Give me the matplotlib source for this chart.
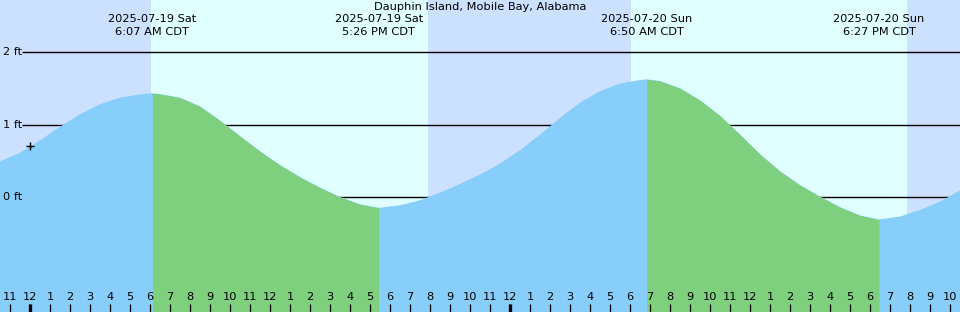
import numpy as np
import matplotlib
matplotlib.use("Agg")
import matplotlib.pyplot as plt
import matplotlib.transforms as mtransforms

# hours after midnight 2025-07-19 (CDT) and tide height in feet
tide_hours = [-1.5, -0.5, 0.5, 1.5, 2.5, 3.5, 4.5, 5.5, 6.117, 6.5, 7.5, 8.5, 9.5,
              10.5, 11.5, 12.5, 13.5, 14.5, 15.5, 16.5, 17.433, 18.5, 19.5, 20.5,
              21.5, 22.5, 23.5, 24.5, 25.5, 26.5, 27.5, 28.5, 29.5, 30.5, 30.833,
              31.5, 32.5, 33.5, 34.5, 35.5, 36.5, 37.5, 38.5, 39.5, 40.5, 41.5,
              42.45, 43.5, 44.5, 45.5, 46.5]
tide_feet = [0.49, 0.61, 0.78, 0.97, 1.14, 1.28, 1.37, 1.415, 1.43, 1.42, 1.37,
             1.25, 1.055, 0.84, 0.63, 0.44, 0.275, 0.13, 0.0, -0.10, -0.15,
             -0.115, -0.045, 0.06, 0.18, 0.31, 0.46, 0.645, 0.86, 1.09, 1.30, 1.46,
             1.565, 1.612, 1.623, 1.60, 1.50, 1.335, 1.12, 0.86, 0.59, 0.355, 0.165,
             0.005, -0.14, -0.255, -0.31, -0.27, -0.18, -0.065, 0.09]

# high / low events
event_hours = [6.117, 17.433, 30.833, 42.45]
event_dates = ["2025-07-19 Sat", "2025-07-19 Sat", "2025-07-20 Sun", "2025-07-20 Sun"]
event_times = ["6:07 AM CDT", "5:26 PM CDT", "6:50 AM CDT", "6:27 PM CDT"]

# sunrise / sunset
sunrise = [6.05, 30.05]
sunset = [19.9, 43.85]

level_feet = [0, 1, 2]
level_labels = ["0 ft", "1 ft", "2 ft"]

tick_hours = list(range(-1, 47))
tick_labels = [str(h % 12 or 12) for h in tick_hours]
midnights = [0, 24]

now_hour = 0.0
now_feet = 0.70

title = "Dauphin Island, Mobile Bay, Alabama"

night_color = "#cce0ff"
day_color = "#e0ffff"
flood_color = "#87cefa"
ebb_color = "#7ecf7e"

W, H = 960, 312
fig = plt.figure(figsize=(W / 100, H / 100), dpi=100)
ax = fig.add_axes([0, 0, 1, 1])
x0, x1 = -1.5, 46.5
y0, y1 = (197 - 312) / 72.5, 197 / 72.5
ax.set_xlim(x0, x1)
ax.set_ylim(y0, y1)
ax.axis("off")

blend = mtransforms.blended_transform_factory(ax.transData, ax.transAxes)

# day / night background
ax.axvspan(x0, x1, color=night_color, lw=0, zorder=0)
for sr, ss in zip(sunrise, sunset):
    ax.axvspan(sr, ss, color=day_color, lw=0, zorder=0.5)

# level lines
ax.hlines(level_feet, (22 - 30) / 20, x1, color="black", lw=1.0, zorder=1)
for f, lab in zip(level_feet, level_labels):
    ax.text((3 - 30) / 20, f, lab, ha="left", va="center", fontsize=8.2, zorder=5)

# tide fill: whole curve blue, falling parts green on top
t = np.array(tide_hours)
h = np.array(tide_feet)
ax.fill_between(t, h, y0, color=flood_color, lw=0, zorder=2)
for hi, lo in [(event_hours[0], event_hours[1]), (event_hours[2], event_hours[3])]:
    m = (t >= hi - 1e-9) & (t <= lo + 1e-9)
    ax.fill_between(t[m], h[m], y0, color=ebb_color, lw=0, zorder=3)

ax.plot([now_hour], [now_feet], marker="+", color="black", ms=6, mew=1, zorder=6)

# event labels
for eh, d, tm in zip(event_hours, event_dates, event_times):
    ax.text(eh, 1 - 19 / H, d, ha="center", va="center", fontsize=8.2, transform=blend, zorder=5)
    ax.text(eh, 1 - 32 / H, tm, ha="center", va="center", fontsize=8.2, transform=blend, zorder=5)

ax.text(0.5, 1 - 7 / H, title, ha="center", va="center", fontsize=8.2,
        transform=ax.transAxes, zorder=5)

# hour ticks
ax.vlines(tick_hours, 0, 8 / H, color="black", lw=0.9, transform=blend, zorder=5)
ax.vlines(midnights, 0, 8 / H, color="black", lw=2.4, transform=blend, zorder=5)
for th, tl in zip(tick_hours, tick_labels):
    ax.text(th, 1 - 297.5 / H, tl, ha="center", va="center", fontsize=8.2,
            transform=blend, zorder=5)

fig.savefig("out.png", dpi=100)
